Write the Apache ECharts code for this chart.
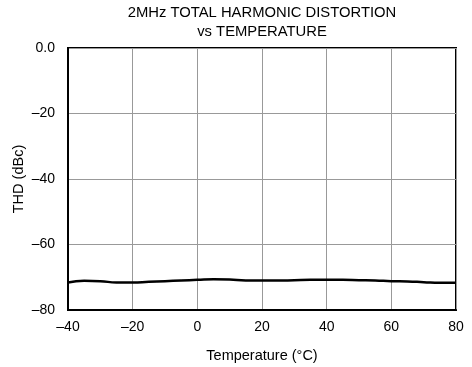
<!DOCTYPE html>
<html>
<head>
<meta charset="utf-8">
<script src="https://cdn.jsdelivr.net/npm/echarts@6/dist/echarts.min.js"></script>
<style>
  html, body { margin: 0; padding: 0; background: #fff; }
  #chart { width: 472px; height: 367px; }
</style>
</head>
<body>
<div id="chart"></div>
<script>
// 温度 (°C) 与 THD (dBc)
const temps = [-40, -35, -30, -25, -20, -15, -10, -5, 0, 5, 10, 15, 20, 25, 30, 35, 40, 45, 50, 55, 60, 65, 70, 75, 80];
const thd = [-71.6, -71.1, -71.2, -71.6, -71.6, -71.4, -71.2, -71.0, -70.8, -70.6, -70.7, -71.0, -71.0, -71.0, -70.9, -70.8, -70.8, -70.8, -70.9, -71.0, -71.2, -71.3, -71.5, -71.7, -71.7];
const titleLines = ['2MHz TOTAL HARMONIC DISTORTION', 'vs TEMPERATURE'];

const font = 'Liberation Sans, Arial, sans-serif';

function dash(v) {
  if (v === 0) return '0';
  return v < 0 ? '\u2013' + Math.abs(v) : String(v);
}

const chart = echarts.init(document.getElementById('chart'));

chart.setOption({
  animation: false,
  title: {
    text: titleLines.join('\n'),
    left: 262,
    top: 3,
    padding: 0,
    textAlign: 'center',
    textStyle: { fontFamily: font, fontSize: 14.8, fontWeight: 'normal', color: '#000', lineHeight: 19 }
  },
  grid: {
    left: 68, right: 16, top: 48, bottom: 57,
    outerBoundsMode: 'none',
    containLabel: false,
    show: true, borderColor: '#000', borderWidth: 2
  },
  xAxis: {
    type: 'value',
    min: -40, max: 80, interval: 20,
    name: 'Temperature (°C)',
    nameLocation: 'middle',
    nameGap: 38,
    nameMoveOverlap: false,
    nameTextStyle: { fontFamily: font, fontSize: 14.5, color: '#000' },
    axisLine: { show: true, onZero: false, lineStyle: { color: '#000', width: 2 } },
    axisTick: { show: false },
    axisLabel: { fontFamily: font, fontSize: 14, color: '#000', margin: 10, formatter: dash },
    splitLine: { show: true, lineStyle: { color: '#999', width: 1 } }
  },
  yAxis: {
    type: 'value',
    min: -80, max: 0, interval: 20,
    name: 'THD (dBc)',
    nameLocation: 'middle',
    nameGap: 42,
    nameMoveOverlap: false,
    nameTextStyle: { fontFamily: font, fontSize: 14.5, color: '#000' },
    axisLine: { show: true, onZero: false, lineStyle: { color: '#000', width: 2 } },
    axisTick: { show: false },
    axisLabel: {
      fontFamily: font, fontSize: 14, color: '#000', margin: 13,
      formatter: function (v) { return v === 0 ? '0.0' : dash(v); }
    },
    splitLine: { show: true, lineStyle: { color: '#999', width: 1 } }
  },
  series: [{
    type: 'line',
    data: temps.map((t, i) => [t, thd[i]]),
    smooth: true,
    showSymbol: false,
    lineStyle: { color: '#000', width: 2.5 }
  }]
});
</script>
</body>
</html>
